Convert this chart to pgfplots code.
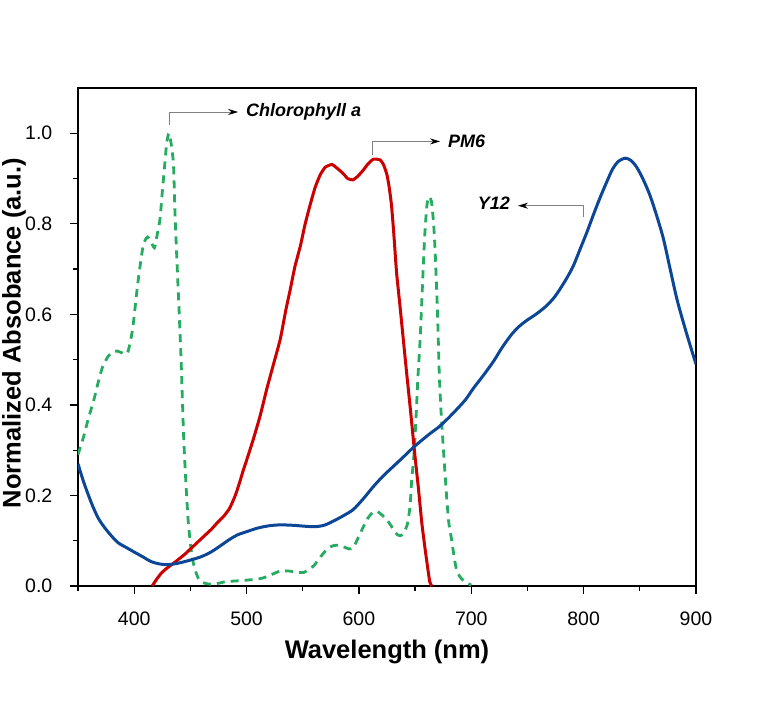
\documentclass[border=0pt]{standalone}
\usepackage{pgfplots}
\pgfplotsset{compat=1.18}
\usepackage{fontspec}
\setmainfont{Liberation Sans}
\usetikzlibrary{arrows.meta}
\definecolor{cgreen}{RGB}{38,172,96}
\definecolor{cred}{RGB}{204,0,0}
\definecolor{cblue}{RGB}{12,71,151}
\begin{document}
\begin{tikzpicture}
\path[use as bounding box] (-78pt,-124pt) rectangle (694pt,586pt);
\begin{axis}[
  at={(0pt,0pt)}, anchor=south west,
  scale only axis, width=618pt, height=498pt,
  xmin=350, xmax=900, ymin=0, ymax=1.1,
  xtick={400,500,...,900}, minor xtick={350,450,...,850},
  ytick={0,0.2,...,1.0}, minor ytick={0.1,0.3,...,0.9},
  yticklabels={0.0,0.2,0.4,0.6,0.8,1.0},
  xtick pos=bottom, ytick pos=left,
  tick align=outside,
  major tick length=8pt, minor tick length=4.5pt,
  every tick/.style={black, line width=1.2pt},
  axis line style={line width=1.4pt},
  /pgf/number format/assume math mode=true,
  tick label style={font=\fontsize{19.5}{22}\selectfont},
  xticklabel style={yshift=-14pt},
  yticklabel style={anchor=east, inner sep=0pt},
  yticklabel shift=17.5pt,
  xlabel={\textbf{Wavelength (nm)}},
  ylabel={\textbf{Normalized Absobance (a.u.)}},
  label style={font=\fontsize{25.5}{28}\selectfont},
  x label style={at={(axis description cs:0.5,-0.1325)}, anchor=center},
  y label style={at={(axis description cs:-0.1036,0.508)}, anchor=center, rotate=0},
  clip=true,
]
\addplot[cgreen, line width=2.8pt, dash pattern=on 8pt off 6pt, smooth, tension=0.4] coordinates {
(350,0.290)(355,0.330)(359,0.368)(364,0.410)(368,0.450)(372,0.485)(377,0.508)(381,0.517)(385,0.519)(390,0.514)(394,0.514)(397,0.545)(399,0.575)(403,0.664)(406,0.720)(408,0.752)(410,0.765)(412,0.771)(415,0.760)(418,0.747)(420,0.770)(423,0.811)(425,0.870)(427,0.925)(429,0.980)(431,1.000)(433,0.975)(435,0.930)(436.5,0.811)(439,0.664)(441.5,0.516)(444,0.331)(446,0.230)(448,0.146)(450,0.095)(452,0.058)(455,0.030)(458,0.013)(463,0.006)(468,0.004)(475,0.006)(482,0.010)(490,0.011)(500,0.013)(509,0.015)(515,0.018)(522,0.025)(530,0.033)(538,0.033)(545,0.030)(551,0.030)(555,0.036)(560,0.045)(566,0.065)(572,0.082)(577,0.089)(582,0.090)(586,0.087)(591,0.082)(595,0.085)(600,0.110)(604,0.131)(608,0.150)(612,0.162)(616,0.165)(620,0.158)(625,0.146)(630,0.128)(634,0.114)(637,0.111)(640,0.118)(643,0.135)(645.5,0.176)(647,0.235)(649,0.290)(651,0.380)(652.5,0.460)(654.5,0.545)(656.5,0.660)(658.5,0.770)(660.5,0.840)(662.5,0.860)(664.5,0.850)(666.5,0.800)(668,0.730)(670,0.600)(671.5,0.470)(673,0.390)(675,0.310)(678,0.200)(680,0.140)(682.5,0.102)(685,0.060)(687,0.035)(690,0.020)(694,0.010)(700,0.002)
};
\addplot[cred, line width=3pt, smooth, tension=0.3] coordinates {
(416,0.000)(420,0.015)(424,0.028)(427,0.035)(432,0.045)(436,0.052)(439,0.058)(445,0.070)(451,0.084)(457,0.098)(463,0.112)(469,0.126)(474,0.140)(480,0.155)(485,0.172)(490,0.200)(494,0.230)(497,0.255)(501,0.285)(506,0.324)(512,0.375)(518,0.435)(524,0.490)(530,0.545)(535,0.610)(539,0.656)(543,0.705)(548,0.752)(552,0.798)(556.5,0.841)(561,0.880)(565.5,0.908)(570,0.925)(576,0.931)(581,0.922)(586,0.911)(590,0.900)(594.5,0.897)(599,0.905)(604,0.919)(608,0.932)(613,0.943)(619,0.941)(622,0.930)(625,0.908)(627,0.880)(629,0.841)(631,0.780)(633.5,0.693)(636.5,0.620)(639.5,0.545)(642.5,0.470)(645.5,0.398)(649.9,0.287)(653,0.215)(656,0.139)(659,0.080)(663,0.010)(665,0.000)
};
\addplot[cblue, line width=3pt, smooth, tension=0.5] coordinates {
(350,0.270)(355,0.230)(362,0.183)(368,0.150)(374,0.128)(380,0.110)(386,0.095)(393,0.085)(400,0.075)(408,0.064)(415,0.054)(422,0.049)(429,0.047)(436,0.049)(442,0.052)(451,0.058)(460,0.065)(469,0.076)(478,0.091)(485,0.103)(492,0.113)(500,0.120)(510,0.128)(520,0.133)(530,0.135)(542,0.134)(552,0.132)(562,0.131)(570,0.135)(577,0.143)(586,0.155)(595,0.169)(604,0.193)(613,0.220)(622,0.244)(631,0.265)(640,0.286)(648,0.305)(656,0.322)(664,0.338)(672,0.353)(680,0.372)(687,0.390)(695,0.412)(702,0.437)(711,0.466)(720,0.497)(727,0.525)(735,0.553)(742,0.572)(749,0.586)(758,0.601)(767,0.619)(774,0.638)(779,0.656)(785,0.680)(791,0.708)(797,0.745)(803,0.782)(809,0.822)(815,0.860)(821,0.895)(826,0.922)(831,0.938)(837,0.945)(842,0.940)(847,0.926)(853,0.898)(859,0.863)(865,0.818)(871,0.767)(877,0.700)(883,0.634)(889,0.580)(895,0.530)(900,0.490)
};
% annotations
\draw[gray, line width=0.8pt, -{Stealth[black,length=10pt,width=6pt]}] (axis cs:431,1.018) |- (axis cs:492.5,1.047);
\node[anchor=west, inner sep=0pt, font=\fontsize{18}{20}\selectfont\bfseries\itshape] at (axis cs:499.5,1.047) {Chlorophyll a};
\draw[gray, line width=0.8pt, -{Stealth[black,length=10pt,width=6pt]}] (axis cs:611.7,0.951) |- (axis cs:672.2,0.982);
\node[anchor=west, inner sep=0pt, font=\fontsize{18}{20}\selectfont\bfseries\itshape] at (axis cs:679.3,0.982) {PM6};
\draw[gray, line width=0.8pt, -{Stealth[black,length=10pt,width=6pt]}] (axis cs:800,0.816) |- (axis cs:741.6,0.840);
\node[anchor=east, inner sep=0pt, font=\fontsize{18}{20}\selectfont\bfseries\itshape] at (axis cs:734.5,0.845) {Y12};
\end{axis}
\end{tikzpicture}
\end{document}
